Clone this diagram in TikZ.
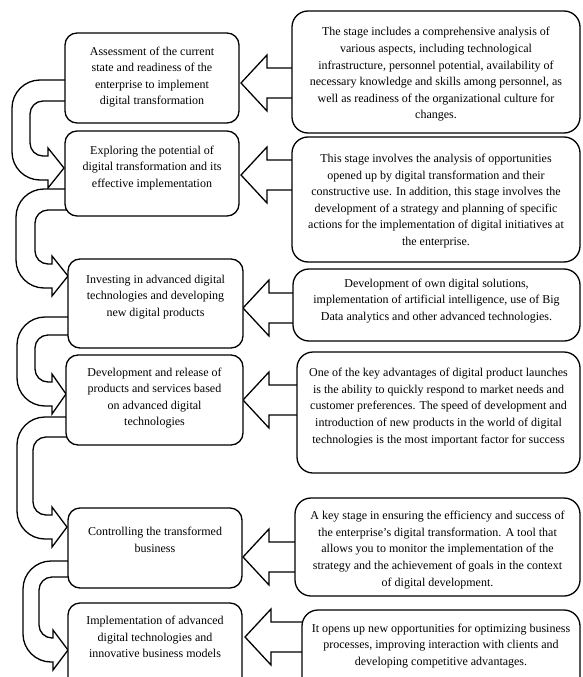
\documentclass[tikz,border=0pt]{standalone}
\usepackage{fontspec}
\setmainfont{Liberation Serif}
\def\Ro{28}
\def\Ri{13}
% curved (U-turn) arrow: #1 start x, #2 outer start y, #3 inner start y,
% #4 outer left x, #5 inner left x, #6 head base x, #7 tip x, #8 tip y
\newcommand\curvedarrow[8]{%
  \draw[band] (#1+4,#2) -- (#4+\Ro,#2)
    .. controls (#4+0.45*\Ro,#2) and (#4,#2+0.45*\Ro) .. (#4,#2+\Ro)
    -- (#4,#8+12-\Ro)
    .. controls (#4,#8+12-0.45*\Ro) and (#4+0.45*\Ro,#8+12) .. (#4+\Ro,#8+12)
    -- (#6,#8+12) -- (#6,#8+20) -- (#7,#8) -- (#6,#8-20) -- (#6,#8-12)
    -- (#5+\Ri,#8-12)
    .. controls (#5+0.45*\Ri,#8-12) and (#5,#8-12-0.45*\Ri) .. (#5,#8-12-\Ri)
    -- (#5,#3+\Ri)
    .. controls (#5,#3+0.45*\Ri) and (#5+0.45*\Ri,#3) .. (#5+\Ri,#3)
    -- (#1+4,#3);}
% block arrow pointing left: #1 tip x, #2 centre y, #3 shaft end x
\newcommand\blockarrow[3]{%
  \draw[band] (#3+4,#2-15) -- (#1+26,#2-15) -- (#1+26,#2-28) -- (#1,#2)
    -- (#1+26,#2+28) -- (#1+26,#2+15) -- (#3+4,#2+15);}
\begin{document}
\begin{tikzpicture}[x=1pt,y=-1pt,
  band/.style={draw=black, fill=white, line width=1.3pt, line join=miter},
  lbox/.style={draw=black, fill=white, line width=1.3pt, rounded corners=12pt, inner sep=0pt},
  rbox/.style={draw=black, fill=white, line width=1.3pt, rounded corners=16pt, inner sep=0pt},
  txt/.style={align=center, inner sep=0pt, font=\fontsize{12}{16.6}\selectfont}]
\useasboundingbox (0,0) rectangle (582,677);
\clip (0,0) rectangle (582,677);

% connectors
\curvedarrow{65}{80}{101}{12}{30}{48}{64}{168}
\curvedarrow{65}{189}{210}{16}{35}{52}{68}{276}
\curvedarrow{68}{317}{335}{17}{35}{52}{66}{394}
\curvedarrow{66}{417}{437}{17}{33}{52}{67}{527}
\curvedarrow{68}{561}{577}{23}{39}{53}{68}{650}

\blockarrow{241}{83}{292}
\blockarrow{241}{175}{292}
\blockarrow{243}{308}{293}
\blockarrow{243}{400}{297}
\blockarrow{243}{557}{295}
\blockarrow{245}{637}{302}

% left boxes
\node[lbox, minimum width=174pt, minimum height=90pt] (L1) at (152,78) {};
\node[lbox, minimum width=174pt, minimum height=85pt] (L2) at (152,173.5) {};
\node[lbox, minimum width=175pt, minimum height=89pt] (L3) at (155.5,303.5) {};
\node[lbox, minimum width=177pt, minimum height=90pt] (L4) at (154.5,400) {};
\node[lbox, minimum width=174pt, minimum height=80pt] (L5) at (155,548) {};
\node[lbox, minimum width=174pt, minimum height=97pt] (L6) at (155,651.5) {};

\node[txt] (L1t) at (152,77) {Assessment of the current\\state and readiness of the\\enterprise to implement\\digital transformation};
\node[txt] (L2t) at (152,168) {Exploring the potential of\\digital transformation and its\\effective implementation};
\node[txt] (L3t) at (155.5,297) {Investing in advanced digital\\technologies and developing\\new digital products};
\node[txt] (L4t) at (154.5,398) {Development and release of\\products and services based\\on advanced digital\\technologies};
\node[txt] (L5t) at (155,540) {Controlling the transformed\\business};
\node[txt] (L6t) at (155,637) {Implementation of advanced\\digital technologies and\\innovative business models};

% right boxes
\node[rbox, minimum width=288pt, minimum height=122pt] (R1) at (436,72) {};
\node[rbox, minimum width=288pt, minimum height=125pt] (R2) at (436,199.5) {};
\node[rbox, minimum width=287pt, minimum height=72pt] (R3) at (436.5,305) {};
\node[rbox, minimum width=283pt, minimum height=121pt] (R4) at (438.5,412.5) {};
\node[rbox, minimum width=285pt, minimum height=98pt] (R5) at (437.5,547) {};
\node[rbox, minimum width=278pt, minimum height=90pt] (R6) at (441,655) {};

\node[txt] (R1t) at (436,74.5) {The stage includes a comprehensive analysis of\\various aspects, including technological\\infrastructure, personnel potential, availability of\\necessary knowledge and skills among personnel, as\\well as readiness of the organizational culture for\\changes.};
\node[txt] (R2t) at (436,201) {This stage involves the analysis of opportunities\\opened up by digital transformation and their\\constructive use. In addition, this stage involves the\\development of a strategy and planning of specific\\actions for the implementation of digital initiatives at\\the enterprise.};
\node[txt] (R3t) at (436.5,301) {Development of own digital solutions,\\implementation of artificial intelligence, use of Big\\Data analytics and other advanced technologies.};
\node[txt] (R4t) at (438.5,407) {One of the key advantages of digital product launches\\is the ability to quickly respond to market needs and\\customer preferences. The speed of development and\\introduction of new products in the world of digital\\technologies is the most important factor for success};
\node[txt] (R5t) at (437.5,550) {A key stage in ensuring the efficiency and success of\\the enterprise's digital transformation. A tool that\\allows you to monitor the implementation of the\\strategy and the achievement of goals in the context\\of digital development.};
\node[txt] (R6t) at (441,646) {It opens up new opportunities for optimizing business\\processes, improving interaction with clients and\\developing competitive advantages.};
\end{tikzpicture}
\end{document}
